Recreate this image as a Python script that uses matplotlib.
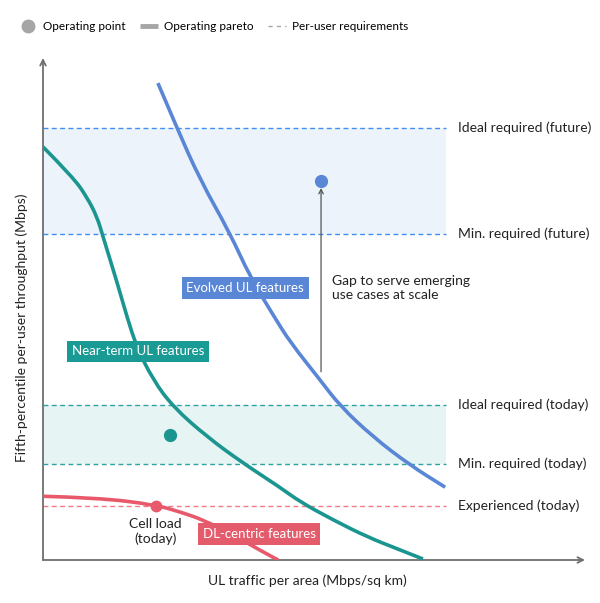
import matplotlib.pyplot as plt
from matplotlib.lines import Line2D
from matplotlib.path import Path
from matplotlib.patches import PathPatch

plt.rcParams['font.family'] = ['Lato', 'DejaVu Sans']

# requirement levels (y) and their labels
req_labels = ["Ideal required (future)", "Min. required (future)",
              "Ideal required (today)", "Min. required (today)",
              "Experienced (today)"]
req_levels = [8.61, 6.49, 3.09, 1.91, 1.08]
req_end = 7.44

# operating pareto curves
evolved_x = [2.12, 2.47, 2.90, 3.45, 3.82, 4.28, 4.56, 5.11, 5.48, 6.09, 6.77, 7.42]
evolved_y = [9.50, 8.61, 7.57, 6.51, 5.64, 4.82, 4.34, 3.59, 3.07, 2.45, 1.89, 1.45]

nearterm_x = [0.00, 0.55, 0.81, 1.00, 1.11, 1.37, 1.55, 1.73, 2.03, 2.40, 3.03,
              3.69, 4.37, 4.74, 5.35, 5.98, 6.59, 7.01]
nearterm_y = [8.23, 7.63, 7.23, 6.83, 6.43, 5.52, 4.84, 4.24, 3.59, 3.05, 2.45,
              1.93, 1.45, 1.16, 0.80, 0.46, 0.20, 0.02]

dl_x = [0.00, 1.00, 2.08, 2.58, 2.95, 3.51, 4.06, 4.34]
dl_y = [1.27, 1.24, 1.10, 0.94, 0.80, 0.50, 0.16, 0.00]

# operating points
points_x = [5.13, 2.34, 2.08]
points_y = [7.55, 2.49, 1.08]

BLUE = "#5a86d6"
TEAL = "#1b9590"
RED = "#e85a6b"
GRAY = "#a6a6a6"
AXIS = "#6e6e6e"


def smooth_curve(ax, xs, ys, color):
    # quadratic bezier through midpoints, read points act as control points
    pts = list(zip(xs, ys))
    verts = [pts[0]]
    codes = [Path.MOVETO]
    for i in range(1, len(pts) - 1):
        mid = ((pts[i][0] + pts[i + 1][0]) / 2, (pts[i][1] + pts[i + 1][1]) / 2)
        verts += [pts[i], mid]
        codes += [Path.CURVE3, Path.CURVE3]
    verts.append(pts[-1])
    codes.append(Path.LINETO)
    ax.add_patch(PathPatch(Path(verts, codes), fill=False, ec=color, lw=2.6,
                           capstyle='butt', zorder=3))


fig = plt.figure(figsize=(6, 6.03), dpi=100)
ax = fig.add_axes([43 / 600, 43 / 603, 542 / 600, 502 / 603])
ax.set_xlim(0, 10)
ax.set_ylim(0, 10)
ax.axis('off')

# axes with arrows
ax.annotate('', xy=(1, 0), xytext=(0, 0), xycoords='axes fraction',
            arrowprops=dict(arrowstyle='->', color=AXIS, lw=1.3, shrinkA=0, shrinkB=0))
ax.annotate('', xy=(0, 1), xytext=(0, 0), xycoords='axes fraction',
            arrowprops=dict(arrowstyle='->', color=AXIS, lw=1.3, shrinkA=0, shrinkB=0))

# shaded requirement bands
ax.fill_between([0, req_end], req_levels[1], req_levels[0], color="#edf3fb", lw=0, zorder=0)
ax.fill_between([0, req_end], req_levels[3], req_levels[2], color="#e7f4f4", lw=0, zorder=0)

dash_colors = ["#3f8ef0", "#3f8ef0", "#2ea3a3", "#2ea3a3", "#f07a88"]
for lvl, lab, c in zip(req_levels, req_labels, dash_colors):
    ax.plot([0, req_end], [lvl, lvl], color=c, lw=1, dashes=(3.5, 2.5), zorder=1)
    ax.text(7.65, lvl, lab, ha='left', va='center', fontsize=10, color="#222222")

# curves
smooth_curve(ax, evolved_x, evolved_y, BLUE)
smooth_curve(ax, nearterm_x, nearterm_y, TEAL)
smooth_curve(ax, dl_x, dl_y, RED)

# operating points
ax.plot(points_x[0], points_y[0], 'o', color=BLUE, ms=8.5, zorder=4)
ax.plot(points_x[1], points_y[1], 'o', color=TEAL, ms=8.5, zorder=4)
ax.plot(points_x[2], points_y[2], 'o', color=RED, ms=7.5, zorder=4)

# gap arrow
ax.annotate('', xy=(5.13, 7.41), xytext=(5.13, 3.75),
            arrowprops=dict(arrowstyle='->', color="#555555", lw=0.9,
                            shrinkA=0, shrinkB=0, mutation_scale=8))
ax.text(5.33, 5.42, "Gap to serve emerging\nuse cases at scale", ha='left', va='center',
        fontsize=10, color="#222222", linespacing=1.25)

# curve labels in boxes
box_kw = dict(ha='center', va='center', fontsize=9.5, color='white', zorder=5)
ax.text(3.73, 5.42, "Evolved UL features",
        bbox=dict(boxstyle='square,pad=0.35', fc=BLUE, ec='none'), **box_kw)
ax.text(1.75, 4.16, "Near-term UL features",
        bbox=dict(boxstyle='square,pad=0.35', fc="#1a9a94", ec='none'), **box_kw)
ax.text(3.99, 0.52, "DL-centric features",
        bbox=dict(boxstyle='square,pad=0.35', fc="#e45b6b", ec='none'), **box_kw)

ax.text(2.08, 0.56, "Cell load\n(today)", ha='center', va='center', fontsize=10,
        color="#222222", linespacing=1.25)

# axis titles
fig.text(307 / 600, 1 - 581 / 603, "UL traffic per area (Mbps/sq km)", ha='center',
         va='center', fontsize=10, color="#222222")
fig.text(22 / 600, 1 - 328 / 603, "Fifth-percentile per-user throughput (Mbps)",
         ha='center', va='center', rotation=90, fontsize=10, color="#222222")

# legend
handles = [
    Line2D([], [], marker='o', ls='none', color=GRAY, ms=9),
    Line2D([], [], color=GRAY, lw=3.5, solid_capstyle='butt'),
    Line2D([], [], color=GRAY, lw=1, dashes=(3, 3)),
]
fig.legend(handles, ["Operating point", "Operating pareto", "Per-user requirements"],
           loc='center left', bbox_to_anchor=(19 / 600, 1 - 27 / 603), ncol=3,
           frameon=False, fontsize=8.5, handlelength=1.5, handletextpad=0.55,
           columnspacing=1.2, borderpad=0, borderaxespad=0)

fig.savefig("out.png", dpi=100)
